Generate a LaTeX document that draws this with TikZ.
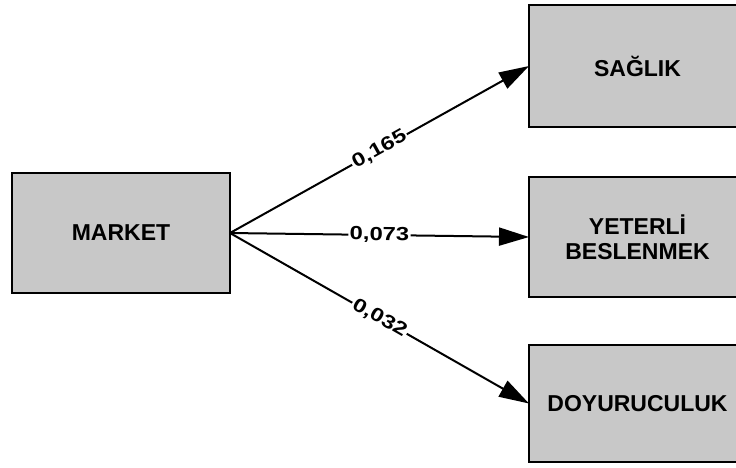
\documentclass[tikz,border=0pt]{standalone}
\usepackage{fontspec}
\setmainfont{Liberation Sans}
\newfontfamily\coeffont[FakeStretch=1.25]{Liberation Sans}
\usetikzlibrary{arrows.meta}
\definecolor{boxgray}{RGB}{200,200,200}
\tikzset{
  factor/.style={draw=black, line width=2.3pt, fill=boxgray, rectangle,
    minimum width=217pt, outer sep=0pt, inner sep=0pt, align=center,
    font=\fontsize{23}{26}\selectfont\bfseries},
  path/.style={line width=2pt, -{Triangle[length=30pt,width=18pt]}},
  coef/.style={pos=0.5, sloped, fill=white, inner sep=1.5pt,
    font=\coeffont\fontsize{19}{21}\selectfont\bfseries}
}
\begin{document}
\begin{tikzpicture}[x=1pt,y=-1pt]
  \useasboundingbox (0,0) rectangle (736,467);
  \fill[white] (0,0) rectangle (736,467);

  % source construct
  \node[factor, minimum width=218pt, minimum height=120pt] (market) at (121,233) {MARKET};

  % outcome constructs
  \node[factor, minimum height=122pt] (saglik) at (637.5,66) {SAĞLIK};
  \node[factor, minimum height=120pt] (yeterli) at (637.5,237) {YETERLİ\\[-1pt]BESLENMEK};
  \node[factor, minimum height=117pt] (doyur) at (637.5,403.5) {DOYURUCULUK};

  % path coefficients
  \draw[path] (market.east) -- node[coef] {0,165} (saglik.west);
  \draw[path] (market.east) -- node[coef] {0,073} (yeterli.west);
  \draw[path] (market.east) -- node[coef] {0,032} (doyur.west);
\end{tikzpicture}
\end{document}
